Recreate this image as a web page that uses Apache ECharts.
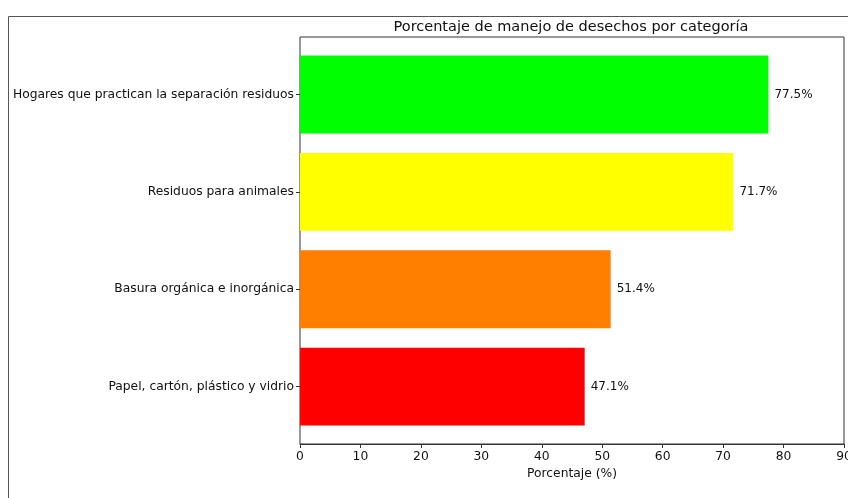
<!DOCTYPE html>
<html><head><meta charset="utf-8">
<script src="https://cdn.jsdelivr.net/npm/echarts@6/dist/echarts.min.js"></script>
<style>html,body{margin:0;padding:0;background:#fff}#c{width:848px;height:498px}</style>
</head><body><div id="c"></div>
<script>
const categories = ["Hogares que practican la separación residuos", "Residuos para animales", "Basura orgánica e inorgánica", "Papel, cartón, plástico y vidrio"];
const values = [77.5, 71.7, 51.4, 47.1];
const colors = ["#00ff00", "#ffff00", "#ff8000", "#ff0000"];
const xTicks = [0, 10, 20, 30, 40, 50, 60, 70, 80, 90];
const title = "Porcentaje de manejo de desechos por categoría";
const xName = "Porcentaje (%)";

const FONT = "DejaVu Sans";
const FS = 12.3;
const chart = echarts.init(document.getElementById('c'), null, {renderer: 'canvas'});
chart.setOption({
  animation: false,
  textStyle: {fontFamily: FONT},
  title: {text: title, left: 566, top: 15, textAlign: 'center',
    textStyle: {fontFamily: FONT, fontWeight: 'normal', fontSize: 14.5, color: '#111'}},
  graphic: [{type: 'rect', shape: {x: 8.5, y: 16.5, width: 900, height: 600},
    style: {fill: 'none', stroke: '#555', lineWidth: 1}, silent: true}],
  grid: [
    {left: 300, right: 4, top: 37, bottom: 54, show: true, borderColor: '#333', borderWidth: 1,
      backgroundColor: 'transparent', outerBoundsMode: 'none', containLabel: false},
    {left: 300, right: 4, top: 45.8, bottom: 62.7, outerBoundsMode: 'none', containLabel: false}
  ],
  xAxis: [
    {gridIndex: 0, type: 'value', min: xTicks[0], max: xTicks[xTicks.length-1], interval: 10,
      name: xName, nameLocation: 'middle', nameGap: 24,
      nameTextStyle: {fontFamily: FONT, fontSize: FS, color: '#111'},
      axisLine: {show: true, lineStyle: {color: '#333'}},
      axisTick: {show: true, length: 4, lineStyle: {color: '#333'}},
      axisLabel: {fontFamily: FONT, fontSize: FS, color: '#111', margin: 7, showMaxLabel: true},
      splitLine: {show: false}},
    {gridIndex: 1, type: 'value', min: 0, max: 90, show: false}
  ],
  yAxis: [
    {gridIndex: 0, type: 'value', show: false},
    {gridIndex: 1, type: 'category', data: categories, inverse: true,
      axisLine: {show: false},
      axisTick: {show: true, alignWithLabel: true, length: 4, lineStyle: {color: '#333'}},
      axisLabel: {fontFamily: FONT, fontSize: FS, color: '#111', margin: 6}}
  ],
  series: [{
    type: 'bar', xAxisIndex: 1, yAxisIndex: 1, barWidth: 77.9,
    data: values.map((v, i) => ({value: v, itemStyle: {color: colors[i]}})),
    label: {show: true, position: 'right', distance: 6, formatter: p => p.value.toFixed(1) + '%',
      fontFamily: FONT, fontSize: 12, color: '#111'}
  }]
});
</script></body></html>
